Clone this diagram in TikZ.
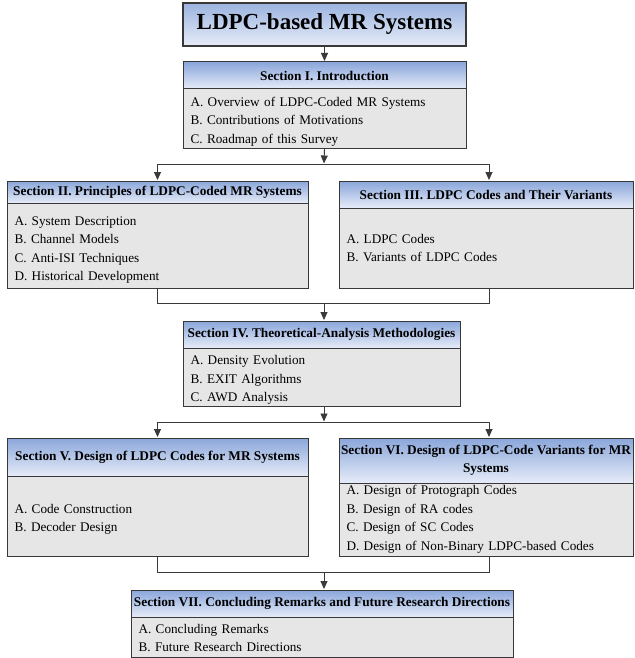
\documentclass[tikz,border=0pt]{standalone}
\usepackage{fontspec}
\setmainfont{Liberation Serif}
\usetikzlibrary{arrows.meta,calc}
\definecolor{bordc}{HTML}{383838}
\definecolor{linec}{HTML}{3A3A3A}
\definecolor{hdtop}{HTML}{8AA6DA}
\definecolor{hdbot}{HTML}{E6ECF8}
\definecolor{bodyc}{HTML}{E6E6E6}
\begin{document}
\begin{tikzpicture}[x=1pt,y=-1pt,
  titlebox/.style={draw=bordc, line width=1.1pt, top color=hdtop!85, bottom color=hdbot, inner sep=0pt,
    font=\fontsize{23}{27}\selectfont\bfseries},
  hdr/.style={draw=bordc, line width=1pt, top color=hdtop, bottom color=hdbot, inner sep=0pt,
    font=\fontsize{13.3}{18}\selectfont\bfseries, align=center},
  bod/.style={draw=bordc, line width=1pt, fill=bodyc, inner xsep=7.5pt, inner ysep=0pt,
    font=\fontsize{13.2}{18.5}\selectfont, align=left,
    execute at begin node={\rule{0pt}{#1}}},
  bod/.default=9pt,
  conn/.style={draw=linec, line width=0.9pt},
  arr/.style={conn, -{Triangle[length=8pt,width=7pt]}, shorten >=0.5pt}]
\useasboundingbox (0,0) rectangle (634,658);

% Title
\node[titlebox, minimum width=283pt, minimum height=43pt] (title) at (324.5,24.5) {LDPC-based MR Systems};

% Section I
\node[bod=15pt, text width=268pt, minimum height=59pt] (s1b) at (324.5,118.5)
  {A. Overview of LDPC-Coded MR Systems\\B. Contributions of Motivations\\C. Roadmap of this Survey};
\node[hdr, minimum width=283pt, minimum height=27pt] (s1h) at (324.5,75.5) {Section I. Introduction};

% Section II
\node[bod=18pt, text width=286pt, minimum height=85pt] (s2b) at (157.5,245.5)
  {A. System Description\\B. Channel Models\\C. Anti-ISI Techniques\\D. Historical Development};
\node[hdr, minimum width=301pt, minimum height=22pt] (s2h) at (157.5,192) {Section II. Principles of LDPC-Coded MR Systems};

% Section III
\node[bod=9pt, text width=279pt, minimum height=80pt] (s3b) at (486,248)
  {A. LDPC Codes\\B. Variants of LDPC Codes};
\node[hdr, minimum width=294pt, minimum height=27pt] (s3h) at (486,194.5) {Section III. LDPC Codes and Their Variants};

% Section IV
\node[bod=15pt, text width=262pt, minimum height=58pt] (s4b) at (321.5,377)
  {A. Density Evolution\\B. EXIT Algorithms\\C. AWD Analysis};
\node[hdr, minimum width=277pt, minimum height=27pt] (s4h) at (321.5,334.5) {Section IV. Theoretical-Analysis Methodologies};

% Section V
\node[bod=16pt, text width=286pt, minimum height=80pt] (s5b) at (157.5,516)
  {A. Code Construction\\B. Decoder Design};
\node[hdr, minimum width=301pt, minimum height=38pt] (s5h) at (157.5,457) {Section V. Design of LDPC Codes for MR Systems};

% Section VI
\node[bod=9pt, text width=279pt, minimum height=73pt] (s6b) at (486,519.5)
  {A. Design of Protograph Codes\\B. Design of RA codes\\C. Design of SC Codes\\D. Design of Non-Binary LDPC-based Codes};
\node[hdr, minimum width=294pt, minimum height=45pt] (s6h) at (486,460.5) {Section VI. Design of LDPC-Code Variants for MR\\Systems};

% Section VII
\node[bod=11pt, text width=367pt, minimum height=40pt] (s7b) at (322,637)
  {A. Concluding Remarks\\B. Future Research Directions};
\node[hdr, minimum width=382pt, minimum height=27pt] (s7h) at (322,603.5) {Section VII. Concluding Remarks and Future Research Directions};

% junctions
\coordinate (j1) at (324,164);
\coordinate (j2) at (324,303);
\coordinate (j3) at (324,422);
\coordinate (j4) at (324,572);

% connectors
\draw[arr] (title.south) -- (s1h.north);
\draw[arr] (s1b.south) -- (j1);
\draw[arr] (j1) -| (s2h.north);
\draw[arr] (j1) -| ($(s3h.north)+(3,0)$);
\draw[conn] (s2b.south) |- (j2);
\draw[conn] ($(s3b.south)+(3,0)$) |- (j2);
\draw[arr] (j2) -- (j2 |- s4h.north);
\draw[arr] (j3 |- s4b.south) -- (j3);
\draw[arr] (j3) -| (s5h.north);
\draw[arr] (j3) -| ($(s6h.north)+(3,0)$);
\draw[conn] (s5b.south) |- (j4);
\draw[conn] ($(s6b.south)+(3,0)$) |- (j4);
\draw[arr] (j4) -- (j4 |- s7h.north);
\end{tikzpicture}
\end{document}
